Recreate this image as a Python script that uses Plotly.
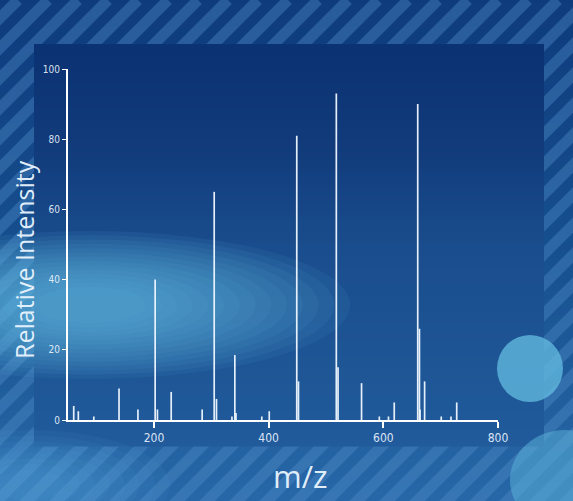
import plotly.graph_objects as go

# ---- data ----
mz = [60, 68, 95, 139, 172, 202, 206, 230, 284, 305, 309, 336, 341, 343, 388, 401,
      449, 452, 518, 521, 562, 593, 609, 619, 660, 663, 664, 672, 701, 718, 728]
intensity = [4, 2.5, 1, 9, 3, 40, 3, 8, 3, 65, 6, 1, 18.5, 2, 1, 2.5,
             81, 11, 93, 15, 10.5, 1, 1, 5, 90, 26, 3, 11, 1, 1, 5]
x_ticks = [200, 400, 600, 800]
y_ticks = [0, 20, 40, 60, 80, 100]
x_title = "m/z"
y_title = "Relative Intensity"

# ---- geometry ----
W, H = 573, 501
L, R, T, B = 68, 498, 69, 420


def px(x):
    return (x - L) / (R - L)


def py(y):
    return (B - y) / (B - T)


def lerp_col(c0, c1, t):
    a = [int(c0[i:i + 2], 16) for i in (1, 3, 5)]
    b = [int(c1[i:i + 2], 16) for i in (1, 3, 5)]
    return "#%02x%02x%02x" % tuple(round(a[k] + (b[k] - a[k]) * t) for k in range(3))


def grad_bands(x0, x1, y0, y1, stops, step=4):
    out = []
    y = y0
    while y < y1:
        yy = min(y + step, y1)
        t = (y - y0) / (y1 - y0)
        for j in range(len(stops) - 1):
            if stops[j][0] <= t <= stops[j + 1][0]:
                tt = (t - stops[j][0]) / (stops[j + 1][0] - stops[j][0])
                c = lerp_col(stops[j][1], stops[j + 1][1], tt)
                break
        out.append(dict(type="rect", xref="paper", yref="paper", layer="below",
                        x0=px(x0), x1=px(x1), y0=py(yy + 0.5), y1=py(y),
                        fillcolor=c, line=dict(width=0)))
        y = yy
    return out


# stick spectrum built from data
xs, ys = [], []
for m, i in zip(mz, intensity):
    xs += [m, m, None]
    ys += [0, i, None]

fig = go.Figure()
fig.add_trace(go.Scatter(x=xs, y=ys, mode="lines",
                         line=dict(color="rgba(240,248,255,0.95)", width=1.7),
                         hoverinfo="skip", showlegend=False))

shapes = []
# outer background gradient
shapes += grad_bands(-5, W + 5, -5, H + 5,
                     [(0, "#0e3b7c"), (0.5, "#17508f"), (1, "#2868a8")], step=8)
# striped frame
period = 30
for k in range(-W - 40, W + 40, period):
    shapes.append(dict(type="line", xref="paper", yref="paper", layer="below",
                       x0=px(k), y0=py(H + 10), x1=px(k + H + 10), y1=py(0),
                       line=dict(color="rgba(80,140,200,0.40)", width=11)))
# inner panel gradient
shapes += grad_bands(34, 544, 44, 446,
                     [(0, "#0b3272"), (0.25, "#113b7b"), (0.5, "#1a4d8d"),
                      (0.75, "#1d5494"), (1, "#215b9c")], step=4)
# light glow band on the left (soft, many layers)
cx, cy = 90, 305
for n in range(14):
    f = 1 - n / 14
    rx, ry = 40 + 220 * f, 14 + 60 * f
    shapes.append(dict(type="circle", xref="paper", yref="paper", layer="below",
                       x0=px(cx - rx), x1=px(cx + rx), y0=py(cy + ry), y1=py(cy - ry),
                       fillcolor="rgba(100,190,235,0.08)", line=dict(width=0)))
# lower-left haze
cx, cy = 30, 485
for n in range(8):
    f = 1 - n / 8
    rx, ry = 20 + 120 * f, 10 + 45 * f
    shapes.append(dict(type="circle", xref="paper", yref="paper", layer="below",
                       x0=px(cx - rx), x1=px(cx + rx), y0=py(cy + ry), y1=py(cy - ry),
                       fillcolor="rgba(100,190,235,0.06)", line=dict(width=0)))
# bokeh circles on the right
shapes.append(dict(type="circle", xref="paper", yref="paper", layer="below",
                   x0=px(497), x1=px(563), y0=py(402), y1=py(335),
                   fillcolor="rgba(100,190,225,0.75)", line=dict(width=0)))
shapes.append(dict(type="circle", xref="paper", yref="paper", layer="below",
                   x0=px(510), x1=px(620), y0=py(530), y1=py(430),
                   fillcolor="rgba(90,175,215,0.55)", line=dict(width=0)))

tick_font = dict(family="Liberation Sans Narrow, DejaVu Sans Condensed, Arial",
                 color="rgba(240,248,255,0.9)")

fig.update_layout(
    width=W, height=H,
    margin=dict(l=L, r=W - R, t=T, b=H - B, autoexpand=False),
    paper_bgcolor="#123f80",
    plot_bgcolor="rgba(0,0,0,0)",
    shapes=shapes,
    xaxis=dict(range=[50, 800], tickvals=x_ticks, ticks="outside", ticklen=6,
               tickcolor="white", tickwidth=1.5, showline=True, linecolor="white",
               linewidth=2, showgrid=False, zeroline=False,
               tickfont=dict(size=12, **tick_font)),
    yaxis=dict(range=[0, 100], tickvals=y_ticks, ticks="outside", ticklen=4,
               tickcolor="white", tickwidth=1.2, showline=True, linecolor="white",
               linewidth=2, showgrid=False, zeroline=False,
               tickfont=dict(size=10, **tick_font)),
    annotations=[
        dict(text=y_title, textangle=-90, xref="paper", yref="paper",
             x=px(24), y=py(260), xanchor="center", yanchor="middle",
             showarrow=False,
             font=dict(family="Open Sans, Noto Sans, Arial", size=25,
                       color="rgba(230,242,252,0.97)")),
        dict(text=x_title, xref="paper", yref="paper",
             x=px(300), y=py(476), xanchor="center", yanchor="middle",
             showarrow=False,
             font=dict(family="Open Sans, Noto Sans, Arial", size=31,
                       color="rgba(230,242,252,0.97)")),
    ],
)

fig.write_html("out.html",
               config={"displayModeBar": False},
               post_script="document.body.style.margin='0';"
                           "document.body.style.overflow='hidden';")
